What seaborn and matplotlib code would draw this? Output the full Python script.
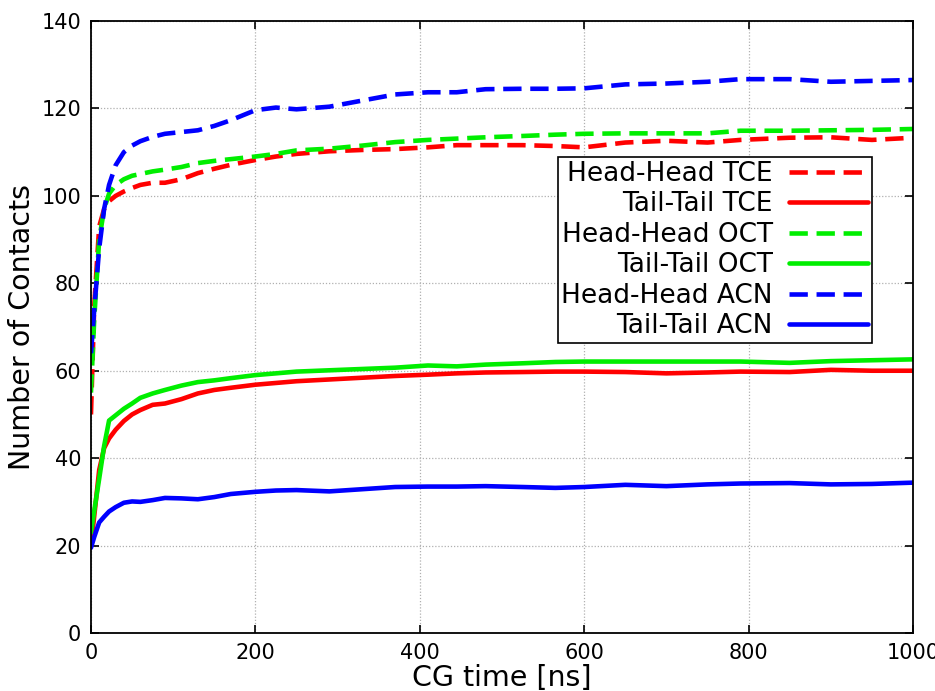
import matplotlib
matplotlib.use("Agg")
import matplotlib.pyplot as plt
import seaborn as sns
import numpy as np

# ---- data ----
time_ns = [0, 4, 10, 16, 22, 30, 40, 50, 60, 75, 90, 110, 130, 150, 170, 200, 225, 250,
           290, 330, 370, 410, 445, 480, 525, 565, 600, 650, 700, 750, 790, 850, 900, 950, 1000]

hh_tce = [50, 75, 93, 97, 98.8, 100, 101, 101.8, 102.5, 103, 103, 103.8, 105.2, 106.2, 107.1, 108.2,
          109, 109.6, 110.2, 110.5, 110.7, 111.1, 111.6, 111.6, 111.6, 111.4, 111.1, 112.2, 112.6,
          112.2, 112.8, 113.3, 113.4, 112.8, 113.3]
tt_tce = [20, 26.8, 37.3, 42.3, 44.5, 46.5, 48.5, 50, 51, 52.2, 52.5, 53.5, 54.8, 55.6, 56.1, 56.8,
          57.2, 57.6, 58.0, 58.4, 58.8, 59.1, 59.4, 59.6, 59.7, 59.8, 59.8, 59.7, 59.4, 59.6, 59.8,
          59.7, 60.2, 60.0, 60.0]
hh_oct = [55, 72, 90, 97, 100.5, 102.5, 103.8, 104.6, 105, 105.6, 106, 106.6, 107.5, 108, 108.4, 109,
          109.6, 110.4, 110.8, 111.5, 112.3, 112.8, 113.1, 113.4, 113.7, 114, 114.2, 114.3, 114.3,
          114.3, 114.9, 114.9, 115.0, 115.1, 115.3]
tt_oct = [23, 28, 35.3, 42.8, 48.6, 49.8, 51.3, 52.5, 53.8, 54.8, 55.6, 56.6, 57.4, 57.8, 58.3, 59.0,
          59.4, 59.8, 60.1, 60.4, 60.7, 61.2, 61.0, 61.4, 61.7, 62.0, 62.1, 62.1, 62.1, 62.1, 62.1,
          61.8, 62.2, 62.4, 62.6]
hh_acn = [64, 74, 88, 97, 102.5, 107, 110, 111.5, 112.5, 113.5, 114.2, 114.6, 115.0, 116, 117.3, 119.6,
          120.2, 119.8, 120.4, 121.8, 123.2, 123.7, 123.7, 124.4, 124.5, 124.5, 124.6, 125.5, 125.7,
          126.1, 126.7, 126.7, 126.1, 126.3, 126.5]
tt_acn = [19.5, 22, 25.3, 26.6, 27.8, 28.8, 29.8, 30.1, 30.0, 30.4, 30.9, 30.8, 30.6, 31.1, 31.8, 32.3,
          32.6, 32.7, 32.4, 32.9, 33.4, 33.5, 33.5, 33.6, 33.4, 33.2, 33.4, 33.9, 33.6, 34.0, 34.2,
          34.3, 34.0, 34.1, 34.4]

labels = ["Head-Head TCE", "Tail-Tail TCE", "Head-Head OCT", "Tail-Tail OCT",
          "Head-Head ACN", "Tail-Tail ACN"]
series = [hh_tce, tt_tce, hh_oct, tt_oct, hh_acn, tt_acn]
colors = ["#ff0000", "#ff0000", "#00ee00", "#00ee00", "#0000ff", "#0000ff"]
dashed = [True, False, True, False, True, False]

x_ticks = [0, 200, 400, 600, 800, 1000]
y_ticks = [0, 20, 40, 60, 80, 100, 120, 140]

# ---- style ----
sns.set_style("ticks")
plt.rcParams["font.family"] = ["DejaVu Sans"]
plt.rcParams["text.color"] = "black"
plt.rcParams["axes.labelcolor"] = "black"
plt.rcParams["xtick.color"] = "black"
plt.rcParams["ytick.color"] = "black"

fig = plt.figure(figsize=(9.35, 6.91), dpi=100)
ax = fig.add_axes([0.0973, 0.0839, 0.8792, 0.8857])

for vals, lab, col, dsh in zip(series, labels, colors, dashed):
    ls = (0, (4, 1.9)) if dsh else "-"
    sns.lineplot(x=time_ns, y=vals, ax=ax, color=col, linewidth=3.3,
                 linestyle=ls, label=lab, sort=False)

ax.set_xlim(0, 1000)
ax.set_ylim(0, 140)
ax.set_xticks(x_ticks)
ax.set_yticks(y_ticks)
ax.grid(True, color="#b0b0b0", linestyle=(0, (1, 1.5)), linewidth=0.9)
ax.set_axisbelow(True)

for s in ax.spines.values():
    s.set_linewidth(1.3)
    s.set_color("black")
    s.set_visible(True)

ax.tick_params(direction="in", top=True, right=True, length=6, width=1.2,
               labelsize=15, pad=7, colors="black")

ax.set_xlabel("CG time [ns]", fontsize=20.5, labelpad=1, color="black")
ax.set_ylabel("Number of Contacts", fontsize=20.5, labelpad=4, color="black")

leg = ax.legend(loc="upper right", bbox_to_anchor=(0.95, 0.778), fontsize=19,
                markerfirst=False, frameon=True, fancybox=False, framealpha=1,
                edgecolor="black", borderpad=0.15, labelspacing=0.17,
                handlelength=3.0, handletextpad=0.6, borderaxespad=0)
leg.get_frame().set_linewidth(1.2)
for t in leg.get_texts():
    t.set_color("black")

fig.savefig("out.png", dpi=100)
